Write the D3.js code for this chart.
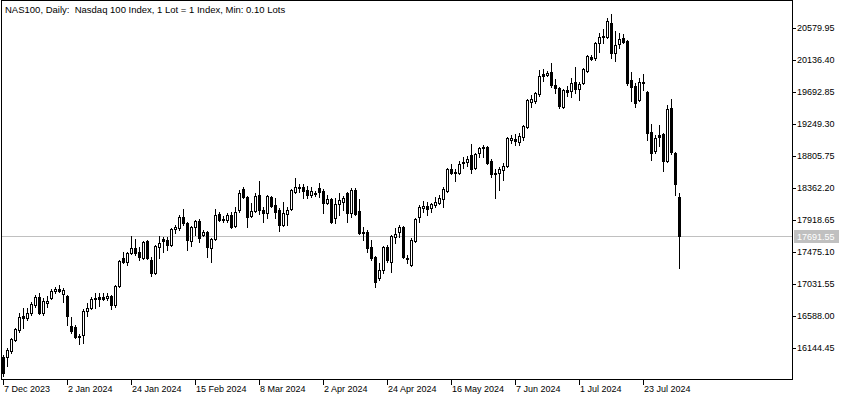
<!DOCTYPE html>
<html>
<head>
<meta charset="utf-8">
<script src="https://cdn.jsdelivr.net/npm/d3@7"></script>
<style>
  html, body { margin: 0; padding: 0; background: #ffffff; }
  svg { display: block; }
  text { font-family: "Liberation Sans", Arial, sans-serif; }
</style>
</head>
<body>
<svg id="chart" width="850" height="400"></svg>
<script>
// ---- data (NAS100 daily candles) ----
const title = "NAS100, Daily:  Nasdaq 100 Index, 1 Lot = 1 Index, Min: 0.10 Lots";

const opens = [
  16020,16020,16103,16255,16394,16588,16560,16630,16741,16851,
  16630,16768,16838,16934,16962,16893,16865,16450,16436,16297,
  16325,16657,16699,16838,16851,16851,16838,16865,16741,17004,
  17392,17337,17461,17531,17475,17392,17628,17364,17184,17545,
  17655,17641,17572,17794,17808,17960,17877,17628,17822,17905,
  17711,17752,17531,17655,18002,17933,17919,17988,17836,18057,
  18348,18238,17974,18044,18265,18057,18016,18238,18127,18057,
  17849,18002,18071,18307,18362,18376,18334,18265,18293,18362,
  18321,18154,18210,17946,18141,18168,18293,18016,18334,18044,
  17752,17752,17545,17406,17115,17226,17545,17337,17683,17752,
  17822,17392,17295,17628,17960,18085,18113,18085,18127,18154,
  18210,18321,18626,18584,18570,18709,18723,18820,18640,18847,
  18917,18931,18736,18556,18570,18612,18667,19028,19041,19000,
  19069,19208,19554,19568,19665,19942,19929,19970,19790,19748,
  19485,19721,19707,19832,19734,19818,19984,20178,20164,20372,
  20455,20455,20649,20233,20358,20441,20400,19859,19776,19582,
  19832,19693,19138,18875,19097,19111,18736,19471,18847,18238
];
const highs = [
  16048,16144,16283,16422,16630,16699,16699,16782,16879,16907,
  16838,16865,16962,16990,17017,16976,16879,16574,16463,16339,
  16685,16768,16851,16907,16907,16907,16907,16879,17017,17364,
  17475,17475,17697,17655,17545,17628,17641,17406,17572,17697,
  17683,17683,17808,17849,17988,18071,17891,17836,17919,17933,
  17780,17766,17669,18071,18030,17974,18016,18030,18099,18334,
  18376,18252,18154,18293,18459,18099,18265,18252,18224,18085,
  18168,18099,18348,18501,18418,18418,18390,18376,18321,18432,
  18348,18265,18224,18224,18293,18252,18307,18362,18362,18210,
  17822,17780,17641,17420,17323,17559,17572,17711,17808,17849,
  17836,17434,17669,17946,18127,18182,18168,18154,18238,18265,
  18376,18640,18695,18626,18736,18792,18806,18972,18847,18931,
  18958,18944,18764,18626,18653,18709,19069,19097,19111,19125,
  19235,19596,19652,19693,19998,20012,19984,20095,19873,19762,
  19734,19776,19887,20039,19832,20026,20206,20206,20386,20511,
  20566,20719,20774,20538,20511,20497,20414,19970,19818,19887,
  19942,19707,19249,19097,19235,19125,19513,19596,18861,18293
];
const lows = [
  15756,15895,16075,16241,16366,16422,16533,16602,16713,16616,
  16602,16713,16824,16907,16921,16782,16463,16352,16283,16200,
  16214,16588,16685,16699,16727,16810,16810,16685,16713,16990,
  17323,17295,17448,17434,17364,17378,17378,17143,17170,17392,
  17475,17503,17559,17738,17780,17849,17503,17559,17711,17614,
  17697,17406,17337,17641,17905,17891,17891,17808,17822,18030,
  18224,17822,17960,18030,18002,17891,17946,18099,17946,17766,
  17836,17849,18057,18293,18307,18224,18224,18238,18252,18238,
  18016,18141,17877,17877,17988,18057,17891,17960,17988,17725,
  17641,17475,17364,16990,17087,17184,17337,17198,17600,17683,
  17392,17323,17281,17614,17891,18030,17988,18030,18099,18141,
  18099,18307,18556,18459,18556,18640,18667,18570,18626,18792,
  18792,18695,18515,18224,18334,18473,18653,18986,18958,18958,
  19028,19194,19485,19541,19638,19845,19915,19762,19679,19471,
  19471,19638,19624,19679,19582,19804,19970,20136,20136,20247,
  20372,20441,20164,20123,20303,20372,19790,19568,19485,19568,
  19721,19028,18750,18847,18944,18598,18723,18833,18265,17253
];
const closes = [
  15798,16117,16269,16408,16574,16560,16630,16754,16851,16630,
  16796,16796,16934,16962,16934,16948,16588,16380,16297,16311,
  16657,16699,16824,16824,16824,16824,16865,16741,17004,17350,
  17337,17461,17531,17461,17406,17614,17392,17184,17559,17600,
  17628,17572,17794,17822,17960,17877,17641,17822,17905,17669,
  17752,17545,17655,17988,17919,17919,17988,17822,18030,18293,
  18238,17960,18044,18252,18057,18016,18252,18113,18030,17849,
  18016,18057,18334,18376,18376,18321,18265,18321,18279,18307,
  18154,18210,17891,18141,18196,18224,18016,18334,18002,17738,
  17738,17531,17392,17059,17226,17545,17364,17697,17725,17822,
  17406,17378,17641,17933,18099,18113,18071,18141,18168,18224,
  18348,18626,18570,18570,18695,18723,18764,18626,18833,18917,
  18931,18709,18556,18570,18626,18667,19055,19055,19014,19083,
  19222,19582,19596,19679,19915,19915,19956,19790,19748,19499,
  19721,19693,19818,19734,19804,20012,20192,20150,20372,20455,
  20469,20677,20233,20344,20428,20386,19818,19762,19541,19832,
  19818,19125,18847,19055,19069,18736,19457,18861,18418,17691.55
];

// x-axis tick labels and the bar index each one sits on
const tickLabels = ["7 Dec 2023","2 Jan 2024","24 Jan 2024","15 Feb 2024","8 Mar 2024",
                    "2 Apr 2024","24 Apr 2024","16 May 2024","7 Jun 2024","1 Jul 2024","23 Jul 2024"];
const tickBars = [0,16,32,48,64,80,96,112,128,144,160];

// price-axis tick values
const priceTicks = [20579.95,20136.40,19692.85,19249.30,18805.75,18362.20,
                    17918.65,17475.10,17031.55,16588.00,16144.45];
const lastPrice = 17691.55;

// ---- layout ----
const svg = d3.select("#chart");
const plotLeft = 1, plotRight = 792, plotTop = 0, plotBottom = 379;
const barStep = 4;

const candles = opens.map((o, i) => ({ i, o, h: highs[i], l: lows[i], c: closes[i] }));

const x = d3.scaleBand()
  .domain(candles.map(d => d.i))
  .range([plotLeft, plotLeft + candles.length * barStep])
  .padding(0);

const y = d3.scaleLinear()
  .domain([16144.45, 20579.95])
  .range([348, 28]);

const root = svg.append("g").attr("shape-rendering", "crispEdges");

// current price line (behind candles)
const yl = Math.round(y(lastPrice));
root.append("line")
  .attr("x1", plotLeft + 1).attr("x2", plotRight)
  .attr("y1", yl + 0.5).attr("y2", yl + 0.5)
  .attr("stroke", "#c0c0c0").attr("stroke-width", 1);

// candles
const g = root.append("g");
candles.forEach(d => {
  const c = Math.round(x(d.i) + x.bandwidth() / 2); // center pixel column
  const yH = Math.round(y(d.h)), yL = Math.round(y(d.l));
  const yTop = Math.round(y(Math.max(d.o, d.c)));
  const yBot = Math.round(y(Math.min(d.o, d.c)));
  g.append("line")
    .attr("x1", c + 0.5).attr("x2", c + 0.5)
    .attr("y1", yH).attr("y2", yL + 1)
    .attr("stroke", "#000").attr("stroke-width", 1);
  const bull = d.c >= d.o;
  if (!bull || yBot - yTop < 1) {
    g.append("rect")
      .attr("x", c - 1).attr("y", yTop)
      .attr("width", 3).attr("height", Math.max(1, yBot - yTop + 1))
      .attr("fill", "#000");
  } else {
    g.append("rect")
      .attr("x", c - 0.5).attr("y", yTop + 0.5)
      .attr("width", 2).attr("height", yBot - yTop)
      .attr("fill", "#fff").attr("stroke", "#000").attr("stroke-width", 1);
  }
});

// frame
root.append("rect")
  .attr("x", plotLeft + 0.5).attr("y", plotTop + 0.5)
  .attr("width", plotRight - plotLeft).attr("height", plotBottom - plotTop)
  .attr("fill", "none").attr("stroke", "#000").attr("stroke-width", 1);

// right price axis
const yAxis = d3.axisRight(y)
  .tickValues(priceTicks)
  .tickFormat(d3.format(".2f"))
  .tickSize(4)
  .tickPadding(2);
const ya = svg.append("g")
  .attr("transform", `translate(${plotRight},0)`)
  .attr("shape-rendering", "crispEdges")
  .call(yAxis);
ya.select(".domain").remove();
ya.selectAll(".tick line").attr("stroke", "#000");
ya.selectAll(".tick text")
  .attr("fill", "#000")
  .attr("font-size", "9px")
  .attr("font-family", "Liberation Sans, Arial, sans-serif")
  .attr("x", 5);

// last price label
const lp = svg.append("g");
lp.append("rect")
  .attr("x", plotRight + 2).attr("y", yl - 6)
  .attr("width", 45).attr("height", 13)
  .attr("fill", "#c0c0c0").attr("shape-rendering", "crispEdges");
lp.append("text")
  .attr("x", plotRight + 5).attr("y", yl + 4)
  .attr("fill", "#fff").attr("font-size", "9px")
  .text(d3.format(".2f")(lastPrice));

// bottom time axis
const xAxis = d3.axisBottom(x)
  .tickValues(tickBars)
  .tickFormat(i => tickLabels[tickBars.indexOf(i)])
  .tickSize(6);
const xa = svg.append("g")
  .attr("transform", `translate(0,${plotBottom})`)
  .attr("shape-rendering", "crispEdges")
  .call(xAxis);
xa.select(".domain").remove();
xa.selectAll(".tick line").attr("stroke", "#000").attr("y1", 1);
xa.selectAll(".tick text")
  .attr("fill", "#000")
  .attr("font-size", "9px")
  .attr("font-family", "Liberation Sans, Arial, sans-serif")
  .attr("text-anchor", "start")
  .attr("x", 1)
  .attr("y", 13)
  .attr("dy", null);

// title
svg.append("text")
  .attr("x", 5).attr("y", 13)
  .attr("font-size", "9.5px")
  .attr("fill", "#000")
  .style("white-space", "pre")
  .attr("xml:space", "preserve")
  .text(title);
</script>
</body>
</html>
